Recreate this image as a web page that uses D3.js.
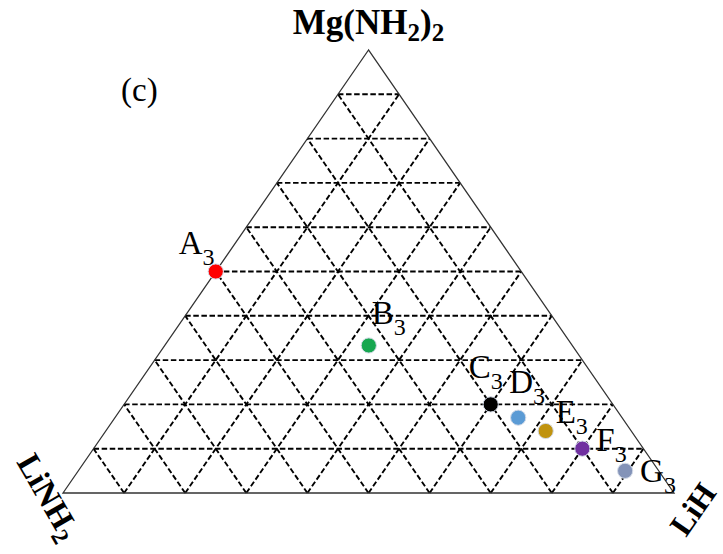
<!DOCTYPE html>
<html>
<head>
<meta charset="utf-8">
<script src="https://cdn.jsdelivr.net/npm/d3@7"></script>
<style>
  html, body { margin: 0; padding: 0; background: #ffffff; }
  svg { display: block; }
  text { font-family: "Liberation Serif", "Times New Roman", serif; fill: #000; }
</style>
</head>
<body>
<svg id="chart" width="723" height="554"></svg>
<script>
// ---- data ----
const vertexNames = ["Mg(NH2)2", "LiNH2", "LiH"];      // top, left, right
const gridTicks = [0.1, 0.2, 0.3, 0.4, 0.5, 0.6, 0.7, 0.8, 0.9];
const pointNames = ["A", "B", "C", "D", "E", "F", "G"];
const pointSubscript = "3";
const fracMgNH2 = [0.50, 0.333, 0.20, 0.17, 0.14, 0.10, 0.05];
const fracLiNH2 = [0.50, 0.333, 0.20, 0.17, 0.14, 0.10, 0.055];
const fracLiH   = [0.00, 0.334, 0.60, 0.66, 0.72, 0.80, 0.895];
const panelLabel = "(c)";

// ---- style / layout ----
const pointColors = ["#ff0000", "#17a750", "#000000", "#5b9bd5", "#c0930f", "#7030a0", "#8393b8"];
const labelOffsets = [[-37, -18], [3, -21], [-22, -26], [-9, -25], [10, -8], [14, 2], [15, 11]];

const svg = d3.select("#chart");
const x = d3.scaleLinear().domain([0, 1]).range([63, 674]);
const y = d3.scaleLinear().domain([0, 1]).range([493, 50]);
// a = Mg(NH2)2 (top), b = LiNH2 (left), c = LiH (right)
const proj = (a, b, c) => { const s = a + b + c; a /= s; c /= s; return [x(c + a / 2), y(a)]; };

const gridG = svg.append("g");
const gridLines = [];
gridTicks.forEach(t => {
  gridLines.push([proj(t, 1 - t, 0), proj(t, 0, 1 - t)]);        // constant Mg(NH2)2
  gridLines.push([proj(0, 1 - t, t), proj(1 - t, 0, t)]);        // constant LiH
  gridLines.push([proj(0, t, 1 - t), proj(1 - t, t, 0)]);        // constant LiNH2
});
gridG.selectAll("line").data(gridLines).join("line")
  .attr("x1", d => d[0][0]).attr("y1", d => d[0][1])
  .attr("x2", d => d[1][0]).attr("y2", d => d[1][1])
  .attr("stroke", "#000").attr("stroke-width", 1.9)
  .attr("stroke-dasharray", "5.5,2.6");

// triangle outline
const corners = [proj(1, 0, 0), proj(0, 1, 0), proj(0, 0, 1)];
svg.append("path")
  .attr("d", d3.line()(corners) + "Z")
  .attr("fill", "none").attr("stroke", "#333").attr("stroke-width", 1.3);

// points
const pts = pointNames.map((n, i) => ({ name: n, p: proj(fracMgNH2[i], fracLiNH2[i], fracLiH[i]), color: pointColors[i], off: labelOffsets[i] }));
svg.append("g").selectAll("circle").data(pts).join("circle")
  .attr("cx", d => d.p[0]).attr("cy", d => d.p[1])
  .attr("r", 7.6)
  .attr("fill", d => d.color)
  .attr("stroke", "#d4dbe8").attr("stroke-width", 1);

// point labels
const lab = svg.append("g").selectAll("text").data(pts).join("text")
  .attr("x", d => d.p[0] + d.off[0]).attr("y", d => d.p[1] + d.off[1])
  .attr("font-size", 33);
lab.append("tspan").text(d => d.name);
lab.append("tspan").attr("font-size", 24).attr("dy", 11).text(pointSubscript);

// vertex labels (bold, with subscripts)
function chem(sel, str, size, subSize, subDy) {
  const parts = str.match(/(\d+|[^\d]+)/g);
  let down = false;
  parts.forEach(p => {
    const isSub = /^\d+$/.test(p);
    const ts = sel.append("tspan").text(p);
    if (isSub) { ts.attr("font-size", subSize).attr("dy", down ? 0 : subDy); down = true; }
    else { ts.attr("font-size", size).attr("dy", down ? -subDy : 0); down = false; }
  });
}
const topT = svg.append("text").attr("x", corners[0][0]).attr("y", 34)
  .attr("text-anchor", "middle").attr("font-weight", "bold");
chem(topT, vertexNames[0], 35, 25, 7);

const leftT = svg.append("text").attr("font-weight", "bold")
  .attr("transform", "translate(16,462) rotate(60)");
chem(leftT, vertexNames[1], 33, 24, 7);

const rightT = svg.append("text").attr("font-weight", "bold")
  .attr("transform", "translate(686,538) rotate(-55)");
chem(rightT, vertexNames[2], 32, 23, 7);

// panel label
svg.append("text").attr("x", 121).attr("y", 101).attr("font-size", 33).text(panelLabel);
</script>
</body>
</html>
